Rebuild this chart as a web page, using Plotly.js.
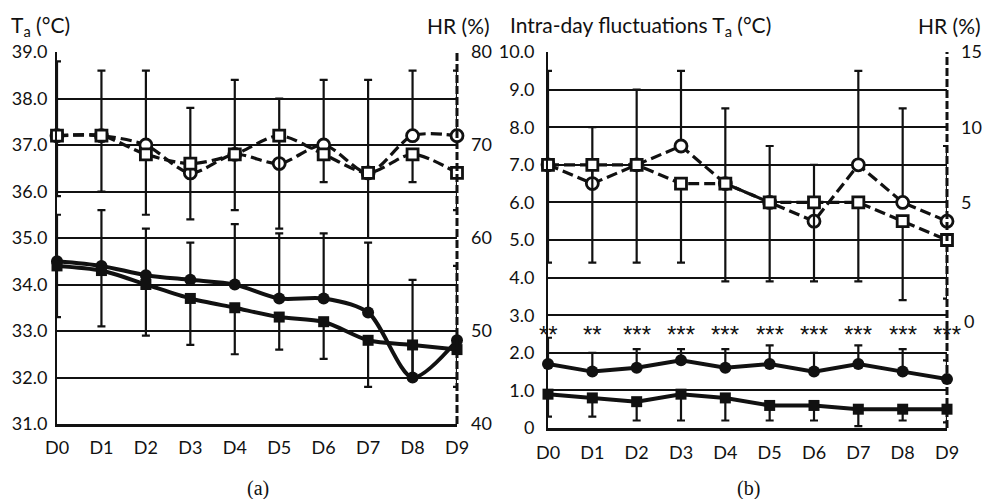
<!DOCTYPE html>
<html><head><meta charset="utf-8">
<script src="https://cdn.plot.ly/plotly-3.0.1.min.js"></script>
<style>html,body{margin:0;padding:0;background:#fff}#chart{width:989px;height:499px}</style>
</head><body><div id="chart"></div>
<script>
// ---- categories ----
const days = ['D0','D1','D2','D3','D4','D5','D6','D7','D8','D9'];

// ---- panel (a): daily means ----
const taCircle      = [34.5,34.4,34.2,34.1,34.0,33.7,33.7,33.4,32.0,32.8];
const taCirclePlus  = [1.0,1.2,1.0,0.8,1.3,1.4,1.4,1.5,2.1,1.6];
const taSquare      = [34.4,34.3,34.0,33.7,33.5,33.3,33.2,32.8,32.7,32.6];
const taSquareMinus = [1.1,1.2,1.1,1.0,1.0,0.7,0.8,1.0,0.7,0.8];
const hrCircle      = [71,71,70,67,69,68,70,67,71,71];
const hrCirclePlus  = [8,7,8,7,8,7,7,10,7,7];
const hrSquare      = [71,71,69,68,69,71,69,67,69,67];
const hrSquareMinus = [6.5,6,6.5,6,6,10,3,7,3,4];

// ---- panel (b): intra-day fluctuations ----
const flCircle        = [1.7,1.5,1.6,1.8,1.6,1.7,1.5,1.7,1.5,1.3];
const flCirclePlus    = [0.7,0.5,0.5,0.3,0.5,0.5,0.5,0.5,0.6,0.5];
const flSquare        = [0.9,0.8,0.7,0.9,0.8,0.6,0.6,0.5,0.5,0.5];
const flSquareMinus   = [0.6,0.5,0.5,0.7,0.6,0.4,0.4,0.45,0.3,0.35];
const hrFlCircle      = [7.5,6.25,7.5,8.75,6.25,5.0,3.75,7.5,5.0,3.75];
const hrFlCirclePlus  = [6.25,3.75,5,5,5,3.75,3.75,6.25,6.25,5];
const hrFlSquare      = [7.5,7.5,7.5,6.25,6.25,5,5,5,3.75,2.5];
const hrFlSquareMinus = [6.5,6.5,6.5,5.25,6.5,5.25,5.25,5.25,5.25,3.9];
const significance    = ['**','**','***','***','***','***','***','***','***','***'];

// ---- tick labels ----
const flTickVals  = [0,1,2,3,4,5,6,7,8,9,10];
const flTickText  = ['0','1.0','2.0','3.0','4.0','5.0','6.0','7.0','8.0','9.0','10.0'];
const hrFlTickVals = [5,10,15];
const hrFlTickText = ['5','10','15'];

const F = 'Lato, "Open Sans", sans-serif';
const BLACK = '#111';

function series(x, y, xa, ya, sym, open, dashed, shape, err) {
  return {
    type:'scatter', mode:'lines+markers', x:x, y:y, xaxis:xa, yaxis:ya, cliponaxis:false,
    line:{color:BLACK, width: dashed ? 3.2 : 4, dash: dashed ? '11px,5px' : 'solid', shape:shape, smoothing:0.8},
    marker:{symbol:sym, size: sym==='square' ? 11 : 12, color: open ? 'white' : BLACK, line:{color:BLACK, width: open ? 2.8 : 0}},
    error_y: Object.assign({type:'data', symmetric:false, color:BLACK, thickness:2.2, width:4}, err)
  };
}
const zeros = days.map(() => 0);

const traces = [
  series(days, hrCircle, 'x', 'y2', 'circle', true, true, 'spline', {array:hrCirclePlus, arrayminus:zeros}),
  series(days, hrSquare, 'x', 'y2', 'square', true, true, 'spline', {array:zeros, arrayminus:hrSquareMinus}),
  series(days, taCircle, 'x', 'y', 'circle', false, false, 'spline', {array:taCirclePlus, arrayminus:zeros}),
  series(days, taSquare, 'x', 'y', 'square', false, false, 'spline', {array:zeros, arrayminus:taSquareMinus}),
  series(days, hrFlCircle, 'x2', 'y4', 'circle', true, true, 'linear', {array:hrFlCirclePlus, arrayminus:zeros}),
  series(days, hrFlSquare, 'x2', 'y4', 'square', true, true, 'linear', {array:zeros, arrayminus:hrFlSquareMinus}),
  series(days, flCircle, 'x2', 'y3', 'circle', false, false, 'linear', {array:flCirclePlus, arrayminus:zeros}),
  series(days, flSquare, 'x2', 'y3', 'square', false, false, 'linear', {array:zeros, arrayminus:flSquareMinus})
];

const xCommon = {type:'category', range:[0,9], showgrid:false, zeroline:false, showline:true,
  linecolor:BLACK, linewidth:3, ticks:'', tickfont:{size:18, family:F, color:BLACK}};
const yCommon = {showgrid:true, gridcolor:BLACK, gridwidth:2, zeroline:false, showline:true,
  linecolor:BLACK, linewidth:2, ticks:'', ticklabelstandoff:4, tickfont:{size:18, family:F, color:BLACK}};
const yRight = {showgrid:false, zeroline:false, showline:false, ticks:'', ticklabelstandoff:13,
  tickfont:{size:18, family:F, color:BLACK}};

const ann = [];
function txt(x, y, text, xanchor, size, fam) {
  ann.push({xref:'paper', yref:'paper', x:x/989, y:1-y/499, text:text, showarrow:false,
    xanchor:xanchor, yanchor:'middle', font:{size:size, family:fam||F, color:BLACK}});
}
txt(9, 26, 'T<sub>a</sub> (°C)', 'left', 21);
txt(492, 25, 'HR (%)', 'right', 21);
txt(508, 26, 'Intra-day fluctuations T<sub>a</sub> (°C)', 'left', 21);
txt(983, 25, 'HR (%)', 'right', 21);
txt(962, 321, '0', 'left', 18);
txt(258, 488, '(a)', 'center', 20, '"Liberation Serif", serif');
txt(748, 488, '(b)', 'center', 20, '"Liberation Serif", serif');
significance.forEach((s, i) => {
  ann.push({xref:'x2', yref:'y3', x:days[i], y:2.5, text:s, showarrow:false,
    xanchor:'center', yanchor:'middle', font:{size:24, family:'"Liberation Sans", sans-serif', color:BLACK}});
});

const layout = {
  width:989, height:499, margin:{l:0,r:0,t:0,b:0}, showlegend:false,
  paper_bgcolor:'white', plot_bgcolor:'white', font:{family:F, size:18, color:BLACK},
  xaxis: Object.assign({}, xCommon, {domain:[57/989, 457/989], anchor:'y', ticklabelstandoff:5}),
  yaxis: Object.assign({}, yCommon, {domain:[1-424/499, 1-52/499], range:[31,39], dtick:1, tickformat:'.1f', anchor:'x'}),
  yaxis2: Object.assign({}, yRight, {overlaying:'y', side:'right', anchor:'x', range:[40,80], dtick:10}),
  xaxis2: Object.assign({}, xCommon, {domain:[548/989, 947/989], anchor:'y3', ticklabelstandoff:6}),
  yaxis3: Object.assign({}, yCommon, {domain:[1-428/499, 1-52/499], range:[0,10], tickvals:flTickVals, ticktext:flTickText, anchor:'x2', ticklabelstandoff:8}),
  yaxis4: Object.assign({}, yRight, {overlaying:'y3', side:'right', anchor:'x2', range:[-10,15], tickvals:hrFlTickVals, ticktext:hrFlTickText}),
  shapes:[
    {type:'line', xref:'x domain', yref:'y domain', x0:1, x1:1, y0:0, y1:1, line:{color:BLACK, width:3, dash:'8px,3px'}},
    {type:'line', xref:'x2 domain', yref:'y3 domain', x0:1, x1:1, y0:0, y1:1, line:{color:BLACK, width:3, dash:'8px,3px'}}
  ],
  annotations: ann
};

Plotly.newPlot('chart', traces, layout, {staticPlot:true, displayModeBar:false});
</script></body></html>
